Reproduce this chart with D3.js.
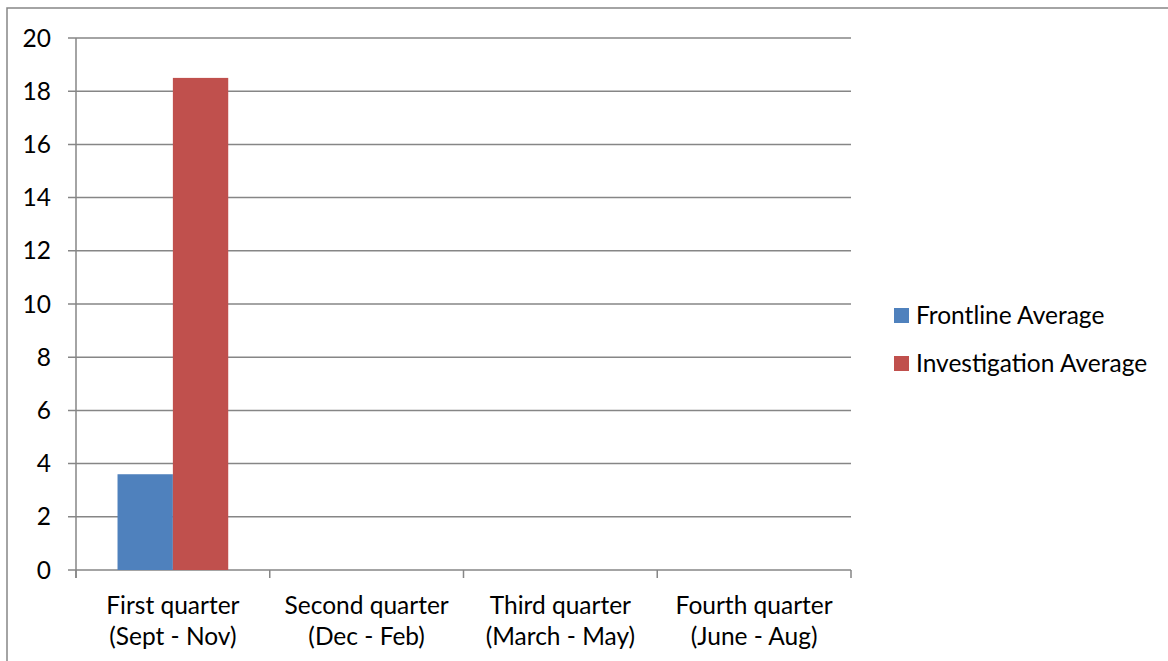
<!DOCTYPE html>
<html>
<head>
<meta charset="utf-8">
<script src="https://cdn.jsdelivr.net/npm/d3@7"></script>
<style>
  body { margin: 0; background: #fff; }
  svg { display: block; font-family: Lato, "Open Sans", sans-serif; }
</style>
</head>
<body>
<svg width="1168" height="661"></svg>
<script>
const quarters = [
  ["First quarter", "(Sept - Nov)"],
  ["Second quarter", "(Dec - Feb)"],
  ["Third quarter", "(March - May)"],
  ["Fourth quarter", "(June - Aug)"]
];
const seriesNames = ["Frontline Average", "Investigation Average"];
const seriesColors = ["#4f81bd", "#c0504d"];
const frontline = [3.6, null, null, null];
const investigation = [18.5, null, null, null];
const yTicks = [0, 2, 4, 6, 8, 10, 12, 14, 16, 18, 20];

const svg = d3.select("svg");
const gridColor = "#868686";
const fontSize = 24.5;

// outer chart border (left and top only visible)
svg.append("path")
  .attr("d", "M7,661 V8 H1168")
  .attr("fill", "none")
  .attr("stroke", gridColor)
  .attr("stroke-width", 1.5);

const plotL = 76, plotR = 851, plotT = 38, plotB = 570;

const x = d3.scaleBand()
  .domain(d3.range(quarters.length))
  .range([plotL, plotR]);

const y = d3.scaleLinear().domain([0, 20]).range([plotB, plotT]);

// gridlines
svg.append("g").selectAll("line")
  .data(yTicks)
  .join("line")
  .attr("x1", plotL - 8).attr("x2", plotR)
  .attr("y1", d => y(d)).attr("y2", d => y(d))
  .attr("stroke", gridColor).attr("stroke-width", 1.5);

// y axis line
svg.append("line")
  .attr("x1", plotL).attr("x2", plotL)
  .attr("y1", plotT).attr("y2", plotB + 8)
  .attr("stroke", gridColor).attr("stroke-width", 1.5);

// y tick labels
svg.append("g").selectAll("text")
  .data(yTicks)
  .join("text")
  .attr("x", 51).attr("y", d => y(d))
  .attr("dy", "0.35em")
  .attr("text-anchor", "end")
  .attr("font-size", fontSize)
  .attr("fill", "#000")
  .text(d => d);

// category ticks
const catEdges = d3.range(quarters.length + 1).map(i => plotL + i * x.step());
svg.append("g").selectAll("line")
  .data(catEdges)
  .join("line")
  .attr("x1", d => d).attr("x2", d => d)
  .attr("y1", plotB).attr("y2", plotB + 8)
  .attr("stroke", gridColor).attr("stroke-width", 1.5);

// bars
const inner = d3.scaleBand().domain([0, 1]).range([0, x.bandwidth()]).paddingOuter(0.75);
[frontline, investigation].forEach((vals, s) => {
  svg.append("g").selectAll("rect")
    .data(vals.map((v, i) => ({ v, i })).filter(d => d.v != null))
    .join("rect")
    .attr("x", d => x(d.i) + inner(s))
    .attr("width", inner.bandwidth())
    .attr("y", d => y(d.v))
    .attr("height", d => plotB - y(d.v))
    .attr("fill", seriesColors[s]);
});

// category labels
const cat = svg.append("g").selectAll("text")
  .data(quarters)
  .join("text")
  .attr("text-anchor", "middle")
  .attr("font-size", fontSize)
  .attr("fill", "#000");
cat.append("tspan")
  .attr("x", (d, i) => x(i) + x.bandwidth() / 2)
  .attr("y", 614)
  .text(d => d[0]);
cat.append("tspan")
  .attr("x", (d, i) => x(i) + x.bandwidth() / 2)
  .attr("y", 645)
  .text(d => d[1]);

// legend
const legend = svg.append("g").selectAll("g")
  .data(seriesNames)
  .join("g")
  .attr("transform", (d, i) => `translate(894, ${308 + i * 48})`);
legend.append("rect")
  .attr("width", 15).attr("height", 15)
  .attr("fill", (d, i) => seriesColors[i]);
legend.append("text")
  .attr("x", 22).attr("y", 7.5)
  .attr("dy", "0.35em")
  .attr("font-size", fontSize)
  .attr("fill", "#000")
  .text(d => d);
</script>
</body>
</html>
